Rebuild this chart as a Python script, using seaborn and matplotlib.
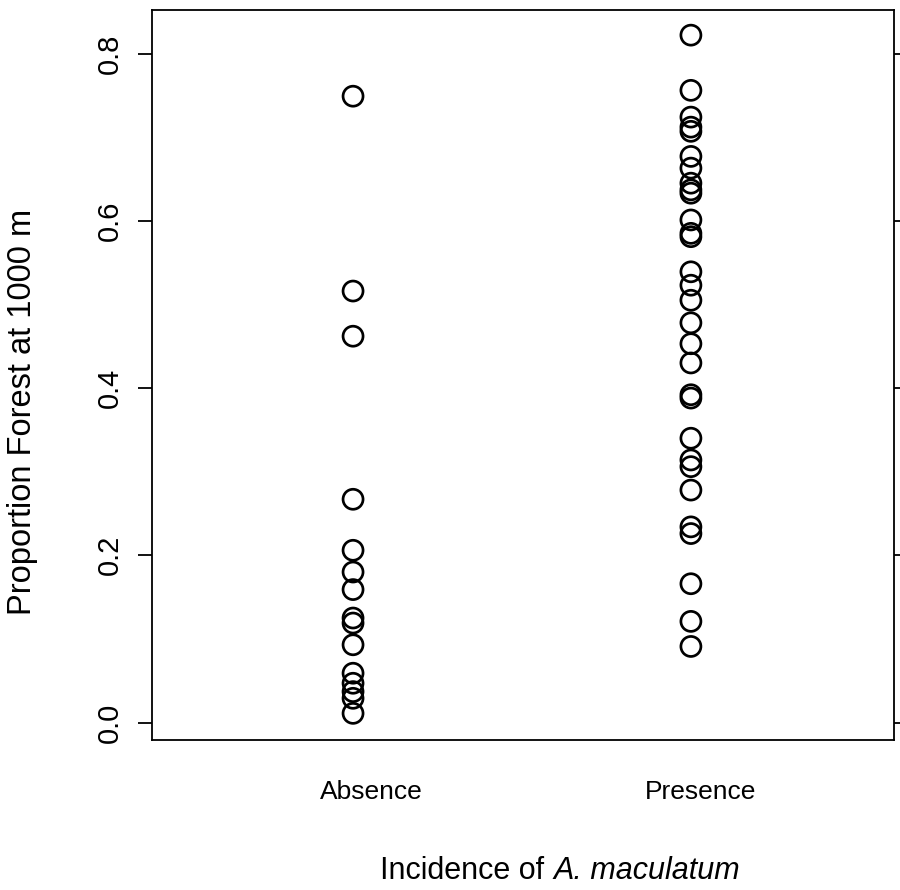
import matplotlib
matplotlib.use("Agg")
import matplotlib.pyplot as plt
import matplotlib.transforms as mtransforms
import seaborn as sns
import pandas as pd

# ---- data ----
categories = ["Absence", "Presence"]
absence_values = [0.749, 0.516, 0.462, 0.267, 0.206, 0.180, 0.159, 0.125, 0.119,
                  0.093, 0.059, 0.047, 0.037, 0.029, 0.011]
presence_values = [0.822, 0.756, 0.724, 0.712, 0.707, 0.677, 0.663, 0.645, 0.637,
                   0.633, 0.601, 0.585, 0.581, 0.539, 0.523, 0.505, 0.478, 0.453,
                   0.430, 0.392, 0.388, 0.340, 0.314, 0.306, 0.278, 0.234, 0.226,
                   0.166, 0.121, 0.091]
y_ticks = [0.0, 0.2, 0.4, 0.6, 0.8]
y_tick_labels = ["0.0", "0.2", "0.4", "0.6", "0.8"]
xlabel_plain = "Incidence of "
xlabel_italic = "A. maculatum"

df = pd.DataFrame({
    "group": [categories[0]] * len(absence_values) + [categories[1]] * len(presence_values),
    "value": absence_values + presence_values,
})

sns.set_theme(style="white")
plt.rcParams["font.family"] = ["Liberation Sans", "DejaVu Sans"]

fig = plt.figure(figsize=(9, 8.9), dpi=100)
ax = fig.add_axes([0.1689, 0.1685, 0.8244, 0.8202])

sns.stripplot(data=df, x="group", y="value", order=categories, jitter=False,
              size=14.4, ax=ax, color="black")
for coll in ax.collections:
    coll.set_facecolor("none")
    coll.set_edgecolor("black")
    coll.set_linewidth(1.95)

ax.set_xlim(-0.595, 1.601)
ax.set_ylim(-0.0209, 0.852)

ax.set_yticks(y_ticks)
ax.set_yticklabels(y_tick_labels, rotation=90, va="center", fontsize=21)
ax.tick_params(axis="y", left=True, right=True, direction="out", length=10,
               width=1.3, color="black", pad=10, labelcolor="black")
ax.tick_params(axis="x", bottom=False, length=0, pad=29, labelsize=19,
               labelcolor="black")

# small offsets of category labels as in the reference
offsets_px = [18, 10]
for lab, dx in zip(ax.get_xticklabels(), offsets_px):
    lab.set_transform(lab.get_transform() +
                      mtransforms.ScaledTranslation(dx / 100, 0, fig.dpi_scale_trans))

for side in ["left", "right", "top", "bottom"]:
    ax.spines[side].set_visible(True)
    ax.spines[side].set_color("black")
    ax.spines[side].set_linewidth(1.3)

ax.set_ylabel("Proportion Forest at 1000 m", fontsize=23.5, color="black")
ax.yaxis.set_label_coords(-0.154, 0.449)
ax.set_xlabel("")

# x label with italic species name, centred at ~560 px, centre y ~871 px
fig.canvas.draw()
renderer = fig.canvas.get_renderer()
W, H = 900.0, 890.0
yc = 1 - 871 / H
t1 = fig.text(0, yc, xlabel_plain, fontsize=22, va="center", ha="left", color="black")
t2 = fig.text(0, yc, xlabel_italic, fontsize=22, va="center", ha="left",
              style="italic", color="black")
w1 = t1.get_window_extent(renderer).width
w2 = t2.get_window_extent(renderer).width
x0 = 560 - (w1 + w2) / 2
t1.set_x(x0 / W)
t2.set_x((x0 + w1) / W)

fig.savefig("out.png", dpi=100, facecolor="white")
